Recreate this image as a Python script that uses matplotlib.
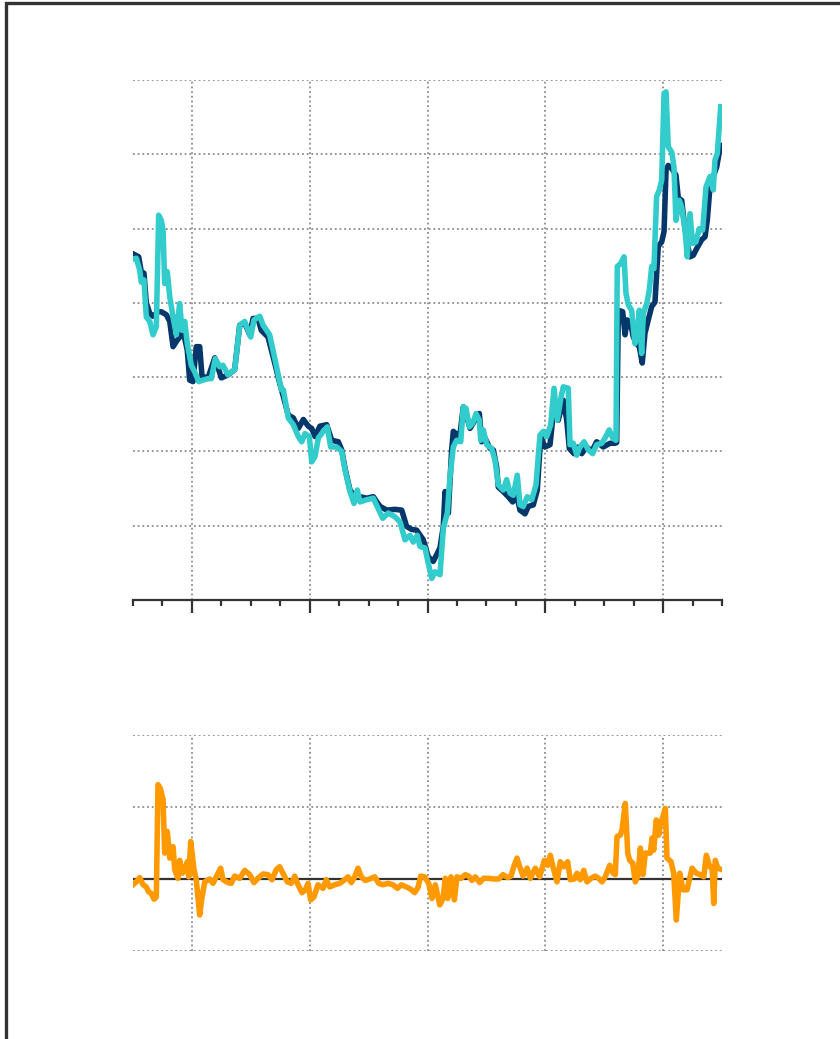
import matplotlib
matplotlib.use("Agg")
import matplotlib.pyplot as plt
from matplotlib.patches import Rectangle
from matplotlib.ticker import MultipleLocator

# ---- data (decimal years) ----
navy_t = [2017.500, 2017.548, 2017.570, 2017.593, 2017.613, 2017.642, 2017.670, 2017.712, 2017.740,
          2017.783, 2017.812, 2017.840, 2017.868, 2017.896, 2017.924, 2017.961, 2017.981, 2018.009,
          2018.037, 2018.066, 2018.086, 2018.137, 2018.194, 2018.250, 2018.306, 2018.363, 2018.406,
          2018.448, 2018.491, 2018.519, 2018.561, 2018.589, 2018.646, 2018.703, 2018.745, 2018.776,
          2018.818, 2018.861, 2018.903, 2018.946, 2018.988, 2019.017, 2019.045, 2019.087, 2019.144,
          2019.187, 2019.243, 2019.272, 2019.300, 2019.342, 2019.385, 2019.427, 2019.484, 2019.540,
          2019.597, 2019.654, 2019.724, 2019.781, 2019.823, 2019.866, 2019.908, 2019.964, 2020.007,
          2020.049, 2020.106, 2020.134, 2020.149, 2020.177, 2020.205, 2020.219, 2020.242, 2020.270,
          2020.304, 2020.333, 2020.361, 2020.403, 2020.440, 2020.460, 2020.488, 2020.531, 2020.559,
          2020.587, 2020.601, 2020.643, 2020.686, 2020.723, 2020.757, 2020.785, 2020.828, 2020.856,
          2020.898, 2020.932, 2020.961, 2020.997, 2021.040, 2021.068, 2021.110, 2021.153, 2021.182,
          2021.204, 2021.244, 2021.280, 2021.309, 2021.351, 2021.394, 2021.436, 2021.492, 2021.549,
          2021.592, 2021.606, 2021.620, 2021.657, 2021.677, 2021.696, 2021.725, 2021.747, 2021.776,
          2021.798, 2021.823, 2021.846, 2021.874, 2021.903, 2021.931, 2021.959, 2021.988, 2022.008,
          2022.025, 2022.044, 2022.073, 2022.109, 2022.129, 2022.158, 2022.177, 2022.200, 2022.228,
          2022.256, 2022.285, 2022.328, 2022.356, 2022.375, 2022.398, 2022.426, 2022.455, 2022.477,
          2022.491]
navy_v = [4.66, 4.62, 4.42, 4.40, 4.00, 3.86, 3.82, 3.88, 3.88,
          3.84, 3.75, 3.41, 3.48, 3.54, 3.63, 3.36, 2.96, 2.94,
          3.41, 3.41, 3.01, 2.99, 3.26, 2.99, 3.03, 3.10, 3.70,
          3.73, 3.57, 3.79, 3.79, 3.63, 3.54, 3.19, 2.92, 2.74,
          2.49, 2.45, 2.31, 2.43, 2.34, 2.31, 2.20, 2.34, 2.36,
          2.15, 2.13, 2.02, 1.77, 1.48, 1.39, 1.39, 1.37, 1.39,
          1.26, 1.21, 1.22, 1.21, 0.99, 0.95, 0.94, 0.81, 0.58,
          0.52, 0.70, 0.99, 1.46, 1.17, 2.02, 2.27, 2.24, 2.15,
          2.60, 2.47, 2.31, 2.42, 2.51, 2.13, 2.18, 2.04, 2.02,
          1.79, 1.52, 1.46, 1.39, 1.32, 1.41, 1.21, 1.16, 1.26,
          1.28, 1.48, 2.20, 2.06, 2.09, 2.51, 2.42, 2.69, 2.42,
          2.04, 1.97, 2.06, 1.97, 2.06, 2.00, 2.13, 2.06, 2.11,
          2.11, 2.12, 3.90, 3.88, 3.57, 3.77, 3.72, 3.54, 3.45,
          3.41, 3.19, 3.59, 3.77, 3.95, 4.01, 4.76, 4.82, 4.96,
          5.79, 5.85, 5.81, 5.72, 5.41, 5.38, 5.11, 4.85, 4.62,
          4.64, 4.73, 4.85, 4.89, 5.11, 5.56, 5.70, 5.83, 6.03,
          6.12]

cyan_t = [2017.500, 2017.528, 2017.557, 2017.570, 2017.593, 2017.613, 2017.642, 2017.670, 2017.698,
          2017.718, 2017.740, 2017.755, 2017.769, 2017.791, 2017.812, 2017.840, 2017.868, 2017.896,
          2017.916, 2017.939, 2017.961, 2017.995, 2018.024, 2018.058, 2018.094, 2018.137, 2018.165,
          2018.199, 2018.236, 2018.264, 2018.306, 2018.363, 2018.406, 2018.448, 2018.499, 2018.527,
          2018.576, 2018.604, 2018.660, 2018.716, 2018.759, 2018.776, 2018.818, 2018.861, 2018.903,
          2018.932, 2018.960, 2018.997, 2019.017, 2019.045, 2019.073, 2019.115, 2019.149, 2019.178,
          2019.229, 2019.272, 2019.300, 2019.342, 2019.376, 2019.404, 2019.427, 2019.484, 2019.540,
          2019.582, 2019.620, 2019.667, 2019.724, 2019.767, 2019.809, 2019.851, 2019.879, 2019.913,
          2019.936, 2019.979, 2020.007, 2020.036, 2020.064, 2020.106, 2020.134, 2020.168, 2020.191,
          2020.219, 2020.248, 2020.282, 2020.304, 2020.327, 2020.355, 2020.384, 2020.412, 2020.440,
          2020.452, 2020.474, 2020.503, 2020.545, 2020.573, 2020.601, 2020.643, 2020.672, 2020.700,
          2020.728, 2020.762, 2020.785, 2020.813, 2020.847, 2020.885, 2020.921, 2020.955, 2020.983,
          2021.012, 2021.046, 2021.074, 2021.102, 2021.131, 2021.153, 2021.195, 2021.210, 2021.238,
          2021.267, 2021.295, 2021.329, 2021.365, 2021.402, 2021.436, 2021.479, 2021.507, 2021.543,
          2021.572, 2021.600, 2021.611, 2021.640, 2021.668, 2021.685, 2021.705, 2021.733, 2021.761,
          2021.781, 2021.798, 2021.818, 2021.832, 2021.861, 2021.883, 2021.903, 2021.922, 2021.945,
          2021.968, 2021.988, 2022.008, 2022.025, 2022.044, 2022.073, 2022.092, 2022.109, 2022.138,
          2022.158, 2022.186, 2022.205, 2022.228, 2022.251, 2022.279, 2022.307, 2022.336, 2022.364,
          2022.398, 2022.426, 2022.440, 2022.460, 2022.489]
cyan_v = [4.59, 4.60, 4.44, 4.28, 4.31, 3.81, 3.75, 3.57, 3.68,
          5.18, 5.11, 4.98, 4.26, 4.42, 4.08, 3.81, 3.57, 3.99,
          3.63, 3.75, 3.45, 3.16, 3.07, 2.94, 2.96, 2.98, 2.98,
          3.25, 3.14, 3.16, 3.03, 3.10, 3.70, 3.75, 3.54, 3.77,
          3.82, 3.70, 3.57, 3.16, 2.83, 2.83, 2.45, 2.36, 2.20,
          2.13, 2.24, 2.20, 1.86, 1.93, 2.18, 2.27, 2.33, 2.06,
          2.06, 2.00, 1.75, 1.46, 1.30, 1.48, 1.32, 1.35, 1.37,
          1.23, 1.10, 1.17, 1.12, 1.05, 0.81, 0.87, 0.78, 0.87,
          0.72, 0.70, 0.49, 0.29, 0.38, 0.34, 0.96, 1.17, 1.66,
          2.06, 2.15, 2.13, 2.60, 2.58, 2.33, 2.38, 2.51, 2.42,
          2.15, 2.29, 2.09, 2.04, 1.88, 1.55, 1.48, 1.62, 1.44,
          1.41, 1.68, 1.28, 1.26, 1.39, 1.35, 1.55, 2.22, 2.27,
          2.20, 2.36, 2.85, 2.42, 2.71, 2.87, 2.85, 2.09, 2.11,
          1.95, 2.06, 2.13, 2.02, 1.97, 2.09, 2.11, 2.18, 2.29,
          2.18, 2.15, 4.49, 4.53, 4.62, 4.13, 3.97, 3.90, 3.45,
          3.59, 3.90, 3.32, 3.86, 3.99, 4.17, 4.49, 4.46, 5.43,
          5.52, 5.65, 6.82, 6.84, 6.10, 6.03, 5.83, 5.11, 5.38,
          5.29, 4.98, 4.62, 5.20, 4.80, 4.82, 5.00, 4.98, 5.56,
          5.70, 5.52, 5.92, 6.01, 6.64]

diff_t = [2017.500, 2017.528, 2017.557, 2017.585, 2017.613, 2017.633, 2017.655, 2017.678, 2017.698,
          2017.712, 2017.732, 2017.755, 2017.769, 2017.791, 2017.812, 2017.840, 2017.854, 2017.882,
          2017.896, 2017.919, 2017.939, 2017.961, 2017.973, 2017.990, 2018.018, 2018.037, 2018.066,
          2018.086, 2018.109, 2018.151, 2018.179, 2018.207, 2018.244, 2018.264, 2018.306, 2018.334,
          2018.363, 2018.406, 2018.448, 2018.491, 2018.527, 2018.561, 2018.604, 2018.646, 2018.680,
          2018.716, 2018.745, 2018.773, 2018.810, 2018.844, 2018.873, 2018.901, 2018.935, 2018.963,
          2018.986, 2019.008, 2019.036, 2019.070, 2019.113, 2019.141, 2019.170, 2019.212, 2019.255,
          2019.297, 2019.325, 2019.353, 2019.382, 2019.410, 2019.438, 2019.472, 2019.509, 2019.552,
          2019.586, 2019.622, 2019.665, 2019.707, 2019.744, 2019.778, 2019.820, 2019.857, 2019.891,
          2019.919, 2019.942, 2019.976, 2020.010, 2020.038, 2020.066, 2020.104, 2020.132, 2020.151,
          2020.171, 2020.199, 2020.228, 2020.250, 2020.284, 2020.321, 2020.350, 2020.378, 2020.406,
          2020.443, 2020.477, 2020.520, 2020.562, 2020.604, 2020.641, 2020.681, 2020.709, 2020.732,
          2020.760, 2020.783, 2020.811, 2020.845, 2020.873, 2020.915, 2020.952, 2020.992, 2021.020,
          2021.042, 2021.065, 2021.099, 2021.127, 2021.156, 2021.190, 2021.212, 2021.246, 2021.269,
          2021.297, 2021.326, 2021.354, 2021.388, 2021.424, 2021.453, 2021.481, 2021.509, 2021.547,
          2021.575, 2021.594, 2021.609, 2021.637, 2021.651, 2021.679, 2021.700, 2021.716, 2021.742,
          2021.764, 2021.784, 2021.807, 2021.829, 2021.849, 2021.891, 2021.906, 2021.920, 2021.942,
          2021.963, 2021.976, 2022.019, 2022.033, 2022.067, 2022.090, 2022.112, 2022.141, 2022.169,
          2022.203, 2022.246, 2022.282, 2022.316, 2022.345, 2022.367, 2022.396, 2022.416, 2022.430,
          2022.443, 2022.464, 2022.500]
diff_v = [-0.08, -0.04, 0.02, -0.08, -0.11, -0.18, -0.20, -0.28, -0.25,
          1.31, 1.26, 1.10, 0.36, 0.66, 0.29, 0.45, 0.13, 0.01,
          0.26, 0.08, 0.13, 0.24, 0.03, 0.52, 0.13, -0.01, -0.50,
          -0.25, -0.04, 0.00, -0.06, 0.03, 0.15, -0.01, -0.05, -0.06,
          0.04, 0.01, 0.12, 0.06, -0.05, 0.01, 0.07, 0.06, -0.01,
          0.13, 0.17, 0.08, -0.04, -0.06, 0.04, -0.08, -0.19, -0.15,
          -0.06, -0.29, -0.25, -0.08, -0.13, -0.01, -0.11, -0.08, -0.06,
          -0.01, 0.03, -0.05, 0.03, 0.15, 0.03, -0.02, 0.00, 0.03,
          -0.06, -0.08, -0.06, -0.08, -0.13, -0.08, -0.11, -0.14, -0.19,
          -0.12, 0.04, 0.03, -0.06, -0.27, -0.08, -0.36, -0.27, 0.01,
          -0.27, 0.03, -0.29, 0.03, 0.01, 0.06, 0.04, -0.02, 0.03,
          -0.05, 0.01, 0.01, 0.00, 0.00, 0.06, 0.02, 0.04, 0.17,
          0.29, 0.17, 0.04, 0.15, 0.01, 0.15, 0.03, 0.26, 0.19,
          0.33, 0.17, -0.04, 0.24, 0.17, 0.24, -0.01, 0.00, 0.08,
          -0.01, 0.12, -0.04, 0.01, 0.04, 0.01, -0.04, 0.03, 0.19,
          0.08, 0.06, 0.59, 0.61, 0.68, 1.05, 0.36, 0.26, 0.22,
          -0.04, 0.03, 0.43, 0.06, 0.36, 0.36, 0.57, 0.40, 0.82,
          0.61, 0.75, 0.98, 0.29, 0.24, 0.08, -0.57, 0.08, -0.15,
          -0.15, 0.15, 0.08, 0.06, 0.03, 0.33, 0.17, 0.17, -0.34,
          0.26, 0.15, 0.13]

x_range = (2017.5, 2022.5)
top_range = (0, 7)
bottom_range = (-1, 2)

# ---- style ----
NAVY = "#05376a"
CYAN = "#33cccc"
ORANGE = "#ff9900"
DARK = "#333333"
GRID = dict(color="#8c8c8c", linestyle=(0, (1, 1.6)), linewidth=1.3)
LW = 4.0

fig = plt.figure(figsize=(8.4, 10.39), dpi=100)
fig.patch.set_facecolor("white")

# outer frame (only left and top edges visible)
fig.patches.append(Rectangle((6 / 840, -0.2), 1.5, 1.2 - 3 / 1039, transform=fig.transFigure,
                             fill=False, edgecolor=DARK, linewidth=2.4, zorder=10))

L, R = 133 / 840, 722 / 840
ax1 = fig.add_axes([L, 1 - 600 / 1039, R - L, (600 - 80) / 1039])
ax2 = fig.add_axes([L, 1 - 951 / 1039, R - L, (951 - 735) / 1039])

# top panel
ax1.plot(navy_t, navy_v, color=NAVY, linewidth=LW, solid_joinstyle="round", zorder=3)
ax1.plot(cyan_t, cyan_v, color=CYAN, linewidth=LW, solid_joinstyle="round", zorder=4)
ax1.set_xlim(*x_range)
ax1.set_ylim(*top_range)
ax1.set_yticks(range(1, 8))
ax1.xaxis.set_minor_locator(MultipleLocator(0.25))
ax1.set_xticks([2018, 2019, 2020, 2021, 2022])
ax1.grid(True, which="major", **GRID)
ax1.set_axisbelow(True)
for s in ("top", "right", "left"):
    ax1.spines[s].set_visible(False)
ax1.spines["bottom"].set_color(DARK)
ax1.spines["bottom"].set_linewidth(1.6)
ax1.tick_params(axis="x", which="major", length=9, width=1.6, color=DARK, labelbottom=False)
ax1.tick_params(axis="x", which="minor", length=4.5, width=1.6, color=DARK)
ax1.tick_params(axis="y", length=0, labelleft=False)

# bottom panel
ax2.plot(diff_t, diff_v, color=ORANGE, linewidth=LW, solid_joinstyle="round", zorder=4)
ax2.axhline(0, color=DARK, linewidth=1.6, zorder=3)
ax2.set_xlim(*x_range)
ax2.set_ylim(*bottom_range)
ax2.set_yticks([-1, 1, 2])
ax2.set_xticks([2018, 2019, 2020, 2021, 2022])
ax2.grid(True, which="major", **GRID)
ax2.set_axisbelow(True)
for s in ax2.spines.values():
    s.set_visible(False)
ax2.tick_params(length=0, labelbottom=False, labelleft=False)

fig.savefig("out.png", dpi=100, facecolor="white")
